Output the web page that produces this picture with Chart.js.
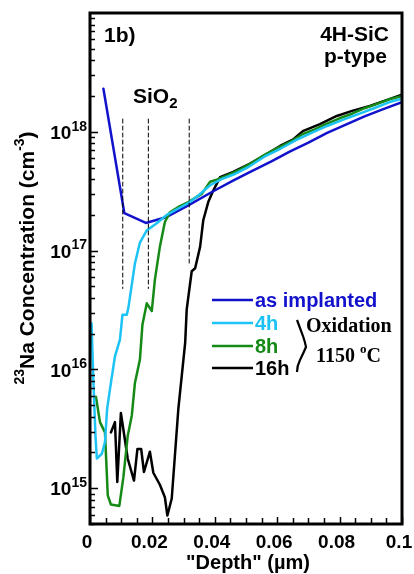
<!DOCTYPE html>
<html>
<head>
<meta charset="utf-8">
<script src="https://cdn.jsdelivr.net/npm/chart.js@4/dist/chart.umd.min.js"></script>
<style>
html,body{margin:0;padding:0;background:#fff;}
#wrap{width:414px;height:574px;}
</style>
</head>
<body>
<div id="wrap"><canvas id="c" width="414" height="574"></canvas></div>
<script>
// ---- data ----
const seriesNames = ['as implanted', '4h', '8h', '16h'];

const implDepth = [0.0043, 0.0110, 0.0179, 0.0246, 0.0315, 0.0395, 0.046, 0.052, 0.058, 0.064, 0.070, 0.076, 0.082, 0.088, 0.094, 0.100];
const implConc  = [2.3e18, 2.07e17, 1.71e17, 1.92e17, 2.4e17, 3.16e17, 3.9e17, 4.7e17, 5.6e17, 6.8e17, 8.1e17, 9.8e17, 1.15e18, 1.35e18, 1.55e18, 1.78e18];

const h4Depth = [0.0005, 0.0011, 0.0018, 0.0022, 0.0038, 0.0048, 0.0055, 0.0065, 0.0080, 0.0096, 0.0104, 0.0118, 0.0123, 0.0144, 0.0160, 0.0182, 0.0214, 0.0246, 0.0280, 0.0315, 0.0350, 0.0385, 0.0420, 0.0460, 0.0510, 0.0560, 0.0610, 0.0660, 0.0710, 0.0760, 0.0810, 0.0860, 0.0910, 0.0960, 0.1000];
const h4Conc  = [2.45e16, 7.8e15, 2.6e15, 1.78e15, 1.95e15, 2.45e15, 4.7e15, 7.1e15, 1.29e16, 1.78e16, 2.88e16, 2.88e16, 3.3e16, 7.8e16, 1.17e17, 1.48e17, 1.70e17, 2.0e17, 2.24e17, 2.51e17, 2.95e17, 3.55e17, 3.98e17, 4.37e17, 5.1e17, 6.2e17, 7.2e17, 8.5e17, 9.8e17, 1.12e18, 1.26e18, 1.41e18, 1.58e18, 1.78e18, 1.9e18];

const h8Depth = [0.0019, 0.0032, 0.0048, 0.0057, 0.0067, 0.0094, 0.0107, 0.0121, 0.0134, 0.0144, 0.0160, 0.0168, 0.0182, 0.0198, 0.0208, 0.0224, 0.0240, 0.0256, 0.0283, 0.0315, 0.0358, 0.0385, 0.0406, 0.0440, 0.0480, 0.0520, 0.0560, 0.0600, 0.0640, 0.0680, 0.0720, 0.0760, 0.0800, 0.0840, 0.0880, 0.0920, 0.0960, 0.1000];
const h8Conc  = [5.9e15, 3.6e15, 2.95e15, 8.7e14, 7.3e14, 7.1e14, 1.24e15, 2.77e15, 4.1e15, 7.7e15, 1.21e16, 2.38e16, 3.6e16, 3.1e16, 5.7e16, 1.08e17, 1.74e17, 2.1e17, 2.33e17, 2.56e17, 3.0e17, 3.8e17, 3.95e17, 4.3e17, 4.8e17, 5.5e17, 6.4e17, 7.3e17, 8.2e17, 9.5e17, 1.05e18, 1.17e18, 1.3e18, 1.42e18, 1.58e18, 1.72e18, 1.88e18, 2.0e18];

const h16Depth = [0.0067, 0.0080, 0.00875, 0.0099, 0.0121, 0.0141, 0.0152, 0.0164, 0.0173, 0.0192, 0.0203, 0.0224, 0.0240, 0.0248, 0.0262, 0.0283, 0.0305, 0.0310, 0.0326, 0.0337, 0.0353, 0.0363, 0.0379, 0.0395, 0.0417, 0.0459, 0.0513, 0.0566, 0.0609, 0.0650, 0.0684, 0.0737, 0.0791, 0.0840, 0.0897, 0.0950, 0.1000];
const h16Conc  = [2.95e15, 3.6e15, 1.13e15, 4.3e15, 1.77e15, 1.16e15, 2.14e15, 2.14e15, 1.37e15, 2.03e15, 1.35e15, 1.07e15, 8.4e14, 5.9e14, 8.2e14, 4.6e15, 1.67e16, 3.2e16, 6.7e16, 7.1e16, 1.08e17, 1.8e17, 2.56e17, 3.2e17, 4.15e17, 4.6e17, 5.4e17, 6.5e17, 7.6e17, 8.6e17, 1.02e18, 1.16e18, 1.36e18, 1.5e18, 1.65e18, 1.85e18, 2.05e18];

// SiO2 interface markers (dashed)
const sio2Depth  = [0.0105, 0.0187, 0.0318];
const sio2Top    = [1.28e18, 1.28e18, 1.28e18];
const sio2Bottom = [4.8e16, 4.8e16, 7.8e16];

// axis ticks
const xTickValues = [0, 0.02, 0.04, 0.06, 0.08, 0.1];
const xTickLabels = ['0', '0.02', '0.04', '0.06', '0.08', '0.1'];
const yDecades    = [1e15, 1e16, 1e17, 1e18];
const yDecadeExp  = ['15', '16', '17', '18'];

// ---- build ----
const colors = { impl: '#1212CC', h4: '#1EC3F5', h8: '#168A16', h16: '#000000' };
function pts(xs, ys) { return xs.map((x, i) => ({ x: x, y: ys[i] })); }

const datasets = [];
sio2Depth.forEach((d, i) => {
  datasets.push({ label: 'sio2-' + i, data: [{ x: d, y: sio2Top[i] }, { x: d, y: sio2Bottom[i] }],
    borderColor: '#000', borderWidth: 1, borderDash: [4, 3], pointRadius: 0, fill: false });
});
datasets.push({ label: seriesNames[1], data: pts(h4Depth, h4Conc), borderColor: colors.h4, borderWidth: 2.5, pointRadius: 0 });
datasets.push({ label: seriesNames[2], data: pts(h8Depth, h8Conc), borderColor: colors.h8, borderWidth: 2.5, pointRadius: 0 });
datasets.push({ label: seriesNames[0], data: pts(implDepth, implConc), borderColor: colors.impl, borderWidth: 2.5, pointRadius: 0 });
datasets.push({ label: seriesNames[3], data: pts(h16Depth, h16Conc), borderColor: colors.h16, borderWidth: 2.5, pointRadius: 0 });

const SANS = '"Liberation Sans", Arial, sans-serif';
const SERIF = '"Liberation Serif", "Times New Roman", serif';

function textWithSup(ctx, parts, x, y, align) {
  let total = 0;
  parts.forEach(p => { ctx.font = 'bold ' + p.size + 'px ' + (p.font || SANS); p.w = ctx.measureText(p.t).width; total += p.w; });
  let cx = align === 'right' ? x - total : (align === 'center' ? x - total / 2 : x);
  parts.forEach(p => {
    ctx.font = 'bold ' + p.size + 'px ' + (p.font || SANS);
    ctx.fillText(p.t, cx, y + (p.dy || 0));
    cx += p.w;
  });
}

const decor = {
  id: 'decor',
  afterDraw(chart) {
    const ctx = chart.ctx, a = chart.chartArea;
    const xs = chart.scales.x, ys = chart.scales.y;
    ctx.save();
    ctx.fillStyle = '#000'; ctx.strokeStyle = '#000';
    ctx.textAlign = 'left'; ctx.textBaseline = 'middle';
    // frame
    ctx.lineWidth = 3;
    ctx.strokeRect(a.left, a.top, a.right - a.left, a.bottom - a.top);
    // y ticks (inside)
    ctx.lineWidth = 1.5;
    for (let e = 14; e <= 18; e++) {
      for (let m = 1; m <= 9; m++) {
        const v = m * Math.pow(10, e);
        if (v < ys.min - 1 || v > ys.max * 1.0001) continue;
        const py = Math.round(ys.getPixelForValue(v)) + 0.5;
        const len = m === 1 ? 8 : 5;
        ctx.beginPath(); ctx.moveTo(a.left, py); ctx.lineTo(a.left + len, py); ctx.stroke();
      }
    }
    // x ticks (inside)
    for (let k = 0; k <= 20; k++) {
      const v = k * 0.005;
      const px = Math.round(xs.getPixelForValue(v)) + 0.5;
      const len = (k % 4 === 0) ? 7 : 6;
      ctx.beginPath(); ctx.moveTo(px, a.bottom); ctx.lineTo(px, a.bottom - len); ctx.stroke();
    }
    // x tick labels
    xTickValues.forEach((v, i) => {
      textWithSup(ctx, [{ t: xTickLabels[i], size: 19 }], xs.getPixelForValue(v) - 3, a.bottom + 19, 'center');
    });
    // y tick labels with superscripts
    yDecades.forEach((v, i) => {
      const py = ys.getPixelForValue(v);
      textWithSup(ctx, [{ t: '10', size: 19 }, { t: yDecadeExp[i], size: 14, dy: -7 }], a.left - 3, py + 2, 'right');
    });
    // x title
    textWithSup(ctx, [{ t: '"Depth" (\u00b5m)', size: 20 }], 248, 563, 'center');
    // y title (rotated)
    ctx.save();
    ctx.translate(28, 258); ctx.rotate(-Math.PI / 2);
    textWithSup(ctx, [
      { t: '23', size: 14, dy: -8 }, { t: 'Na Concentration (cm', size: 21 },
      { t: '-3', size: 14, dy: -8 }, { t: ')', size: 21 }], 0, 0, 'center');
    ctx.restore();
    // annotations
    textWithSup(ctx, [{ t: '1b)', size: 21 }], 104, 36, 'left');
    textWithSup(ctx, [{ t: '4H-SiC', size: 21 }], 389, 35, 'right');
    textWithSup(ctx, [{ t: 'p-type', size: 21 }], 387, 57, 'right');
    textWithSup(ctx, [{ t: 'SiO', size: 21 }, { t: '2', size: 15, dy: 7 }], 133, 97, 'left');
    // legend
    const leg = [
      { name: seriesNames[0], c: colors.impl, y: 300 },
      { name: seriesNames[1], c: colors.h4, y: 323 },
      { name: seriesNames[2], c: colors.h8, y: 346 },
      { name: seriesNames[3], c: colors.h16, y: 368 }];
    leg.forEach(l => {
      ctx.strokeStyle = l.c; ctx.lineWidth = 2.5;
      ctx.beginPath(); ctx.moveTo(212, l.y); ctx.lineTo(253, l.y); ctx.stroke();
      ctx.fillStyle = l.c;
      textWithSup(ctx, [{ t: l.name, size: 20 }], 255, l.y + 1, 'left');
    });
    // brace
    ctx.strokeStyle = '#000'; ctx.lineWidth = 2.2;
    ctx.beginPath();
    ctx.moveTo(297, 320);
    ctx.quadraticCurveTo(300, 328, 303, 336);
    ctx.quadraticCurveTo(305, 342, 306, 347);
    ctx.quadraticCurveTo(303, 354, 300, 360);
    ctx.quadraticCurveTo(297, 366, 297, 372);
    ctx.stroke();
    ctx.fillStyle = '#000';
    textWithSup(ctx, [{ t: 'Oxidation', size: 20, font: SERIF }], 306, 327, 'left');
    textWithSup(ctx, [{ t: '1150 ', size: 20, font: SERIF }, { t: 'o', size: 13, dy: -7, font: SERIF }, { t: 'C', size: 20, font: SERIF }], 316, 357, 'left');
    ctx.restore();
  }
};

new Chart(document.getElementById('c'), {
  type: 'line',
  data: { datasets: datasets },
  options: {
    responsive: false,
    animation: false,
    layout: { padding: { left: 90, right: 12, top: 13, bottom: 50 } },
    plugins: { legend: { display: false }, tooltip: { enabled: false } },
    elements: { line: { tension: 0, borderJoinStyle: 'round', borderCapStyle: 'round' } },
    scales: {
      x: { type: 'linear', min: 0, max: 0.1, display: false },
      y: { type: 'logarithmic', min: 5e14, max: 1e19, display: false }
    }
  },
  plugins: [decor]
});
</script>
</body>
</html>
